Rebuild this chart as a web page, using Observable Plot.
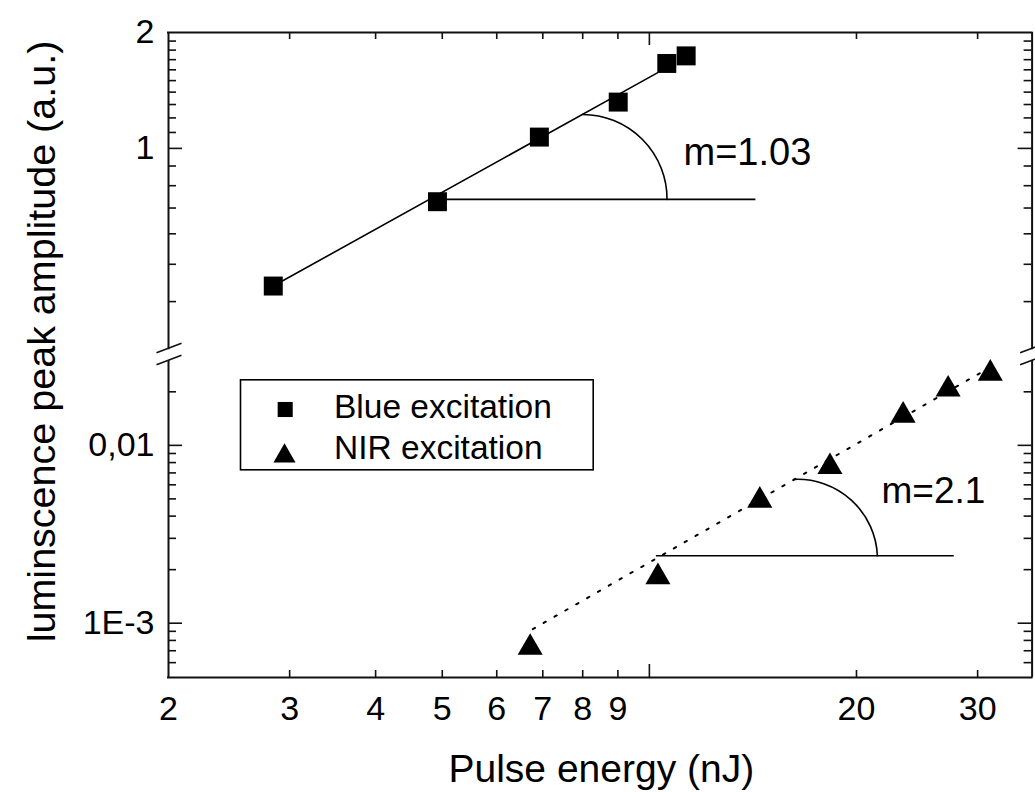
<!DOCTYPE html>
<html>
<head>
<meta charset="utf-8">
<script src="https://cdn.jsdelivr.net/npm/d3@7"></script>
<script src="https://cdn.jsdelivr.net/npm/@observablehq/plot@0.6"></script>
<style>
  body { margin: 0; background: #fff; }
  #chart { position: relative; width: 1035px; height: 792px; }
  #chart svg { position: absolute; left: 0; }
</style>
</head>
<body>
<div id="chart"></div>
<script>
// ---------- data ----------
const blueEnergy = [2.84, 4.92, 6.92, 9.01, 10.60, 11.31];          // nJ
const blueAmp    = [0.439, 0.727, 1.070, 1.319, 1.662, 1.739];      // a.u.
const nirEnergy  = [6.71, 10.29, 14.47, 18.30, 23.38, 27.18, 31.30];
const nirAmp     = [7.29e-4, 1.82e-3, 4.90e-3, 7.57e-3, 0.01471, 0.02065, 0.02533];

// fitted power-law lines (end points)
const blueFitEnergy = [2.84, 10.27];
const blueFitAmp    = [0.439, 1.571];
const nirFitEnergy  = [6.77, 30.5];
const nirFitAmp     = [9.26e-4, 0.02596];

// slope annotations: horizontal reference + angle arc
const blueRefLine = [{x1: 4.92, x2: 14.26, y: 0.737}];
const blueArc     = [{x1: 8.0, y1: 1.225, x2: 10.61, y2: 0.737}];
const nirRefLine  = [{x1: 10.22, x2: 27.7, y: 2.394e-3}];
const nirArc      = [{x1: 16.23, y1: 6.44e-3, x2: 21.45, y2: 2.394e-3}];
const slopeLabels = [
  {x: 11.21, y: 0.976, text: "m=1.03", panel: "top"},
  {x: 21.75, y: 5.55e-3, text: "m=2.1", panel: "bottom"}
];

// axes
const xDomain = [2, 36];
const yTopDomain = [0.3, 2];
const yBottomDomain = [4.95e-4, 0.03];
const xTickValues = [2, 3, 4, 5, 6, 7, 8, 9, 20, 30];
const xTickLabels = ["2", "3", "4", "5", "6", "7", "8", "9", "20", "30"];
const xMinorTicks = [3, 4, 5, 6, 7, 8, 9, 20, 30];
const xMajorTicks = [10];
const yTopTickValues = [1, 2];
const yTopTickLabels = ["1", "2"];
const yTopMinor = [0.4, 0.5, 0.6, 0.7, 0.8, 0.9, 1.1, 1.2, 1.3, 1.4, 1.5, 1.6, 1.7, 1.8, 1.9];
const yTopMajor = [1];
const yBottomTickValues = [0.001, 0.01];
const yBottomTickLabels = ["1E-3", "0,01"];
const yBottomMinor = [6e-4, 7e-4, 8e-4, 9e-4, 0.002, 0.003, 0.004, 0.005, 0.006, 0.007, 0.008, 0.009, 0.02];
const yBottomMajor = [0.001, 0.01];

const legendLabels = ["Blue excitation", "NIR excitation"];
const xTitle = "Pulse energy (nJ)";
const yTitle = "luminscence peak amplitude (a.u.)";

// ---------- layout ----------
const FONT = "'Liberation Sans', Arial, Helvetica, sans-serif";
const INK = "#111";
const W = 1035, ML = 168, MR = 3.4;
const FW = W - ML - MR;
const topH = 355, topMT = 32, topMB = 5.8, topFH = topH - topMT - topMB;
const botTop = 355, botH = 437, botMT = 5, botMB = 115, botFH = botH - botMT - botMB;

const xLabelMap = new Map(xTickValues.map((v, i) => [v, xTickLabels[i]]));
const yTopLabelMap = new Map(yTopTickValues.map((v, i) => [v, yTopTickLabels[i]]));
const yBotLabelMap = new Map(yBottomTickValues.map((v, i) => [v, yBottomTickLabels[i]]));

// axis-break glyph (two parallel slashes)
const breakSymbol = {
  draw(ctx) {
    ctx.moveTo(-12, 3); ctx.lineTo(13, -6.5);
    ctx.moveTo(-12, 15); ctx.lineTo(13, 5.5);
  }
};

function ticks(yMinor, yMajor, FH, side) {
  const m = [];
  const sw = 1.6;
  m.push(Plot.tickY(yMinor, {y: d => d, insetRight: FW - 8, stroke: INK, strokeWidth: sw}));
  m.push(Plot.tickY(yMinor, {y: d => d, insetLeft: FW - 8, stroke: INK, strokeWidth: sw}));
  m.push(Plot.tickY(yMajor, {y: d => d, insetRight: FW - 14, stroke: INK, strokeWidth: sw}));
  m.push(Plot.tickY(yMajor, {y: d => d, insetLeft: FW - 14, stroke: INK, strokeWidth: sw}));
  if (side === "top") {
    m.push(Plot.tickX(xMinorTicks, {x: d => d, insetBottom: FH - 7, stroke: INK, strokeWidth: sw}));
    m.push(Plot.tickX(xMajorTicks, {x: d => d, insetBottom: FH - 13, stroke: INK, strokeWidth: sw}));
  } else {
    m.push(Plot.tickX(xMinorTicks, {x: d => d, insetTop: FH - 7, stroke: INK, strokeWidth: sw}));
    m.push(Plot.tickX(xMajorTicks, {x: d => d, insetTop: FH - 13, stroke: INK, strokeWidth: sw}));
  }
  return m;
}

const styleObj = {background: "transparent", overflow: "visible", fontFamily: FONT, color: "#000"};

// ---------- top panel (blue excitation) ----------
const topPlot = Plot.plot({
  width: W, height: topH,
  marginLeft: ML, marginRight: MR, marginTop: topMT, marginBottom: topMB,
  style: styleObj,
  x: {type: "log", domain: xDomain, axis: null},
  y: {type: "log", domain: yTopDomain, axis: null},
  marks: [
    Plot.ruleY([yTopDomain[1]], {stroke: INK, strokeWidth: 2, strokeLinecap: "square"}),
    Plot.ruleX(xDomain, {stroke: INK, strokeWidth: 2}),
    ...ticks(yTopMinor, yTopMajor, topFH, "top"),
    Plot.axisY(yTopTickValues, {anchor: "left", tickSize: 0, tickPadding: 14, fontSize: 34,
      tickFormat: d => yTopLabelMap.get(d), label: null}),
    Plot.dot([0], {x: () => xDomain[0], y: () => yTopDomain[0], symbol: breakSymbol, r: 10,
      fill: "none", stroke: INK, strokeWidth: 1.6}),
    Plot.dot([0], {x: () => xDomain[1], y: () => yTopDomain[0], symbol: breakSymbol, r: 10,
      fill: "none", stroke: INK, strokeWidth: 1.6}),
    Plot.line(blueFitEnergy, {x: d => d, y: (d, i) => blueFitAmp[i], stroke: "#000", strokeWidth: 1.6}),
    Plot.link(blueRefLine, {x1: "x1", x2: "x2", y1: "y", y2: "y", stroke: "#000", strokeWidth: 1.6}),
    Plot.arrow(blueArc, {x1: "x1", y1: "y1", x2: "x2", y2: "y2", bend: 45, headLength: 0,
      stroke: "#000", strokeWidth: 1.6}),
    Plot.dot(blueEnergy, {x: d => d, y: (d, i) => blueAmp[i], symbol: "square", r: 10.7,
      fill: "#000", stroke: "none"}),
    Plot.text(slopeLabels.filter(d => d.panel === "top"), {x: "x", y: "y", text: "text",
      textAnchor: "start", lineAnchor: "middle", fontSize: 38, fill: "#000"}),
    Plot.text([yTitle], {frameAnchor: "left", text: d => d, rotate: -90, dx: -126, dy: 150.4,
      textAnchor: "middle", lineAnchor: "middle", fontSize: 39.5, fill: "#000"})
  ]
});
topPlot.style.top = "0px";

// ---------- bottom panel (NIR excitation) ----------
const botPlot = Plot.plot({
  width: W, height: botH,
  marginLeft: ML, marginRight: MR, marginTop: botMT, marginBottom: botMB,
  style: styleObj,
  x: {type: "log", domain: xDomain, axis: null},
  y: {type: "log", domain: yBottomDomain, axis: null},
  marks: [
    Plot.ruleY([yBottomDomain[0]], {stroke: INK, strokeWidth: 2, strokeLinecap: "square"}),
    Plot.ruleX(xDomain, {stroke: INK, strokeWidth: 2}),
    ...ticks(yBottomMinor, yBottomMajor, botFH, "bottom"),
    Plot.axisY(yBottomTickValues, {anchor: "left", tickSize: 0, tickPadding: 14, fontSize: 34,
      tickFormat: d => yBotLabelMap.get(d), label: null}),
    Plot.axisX(xTickValues, {anchor: "bottom", tickSize: 0, tickPadding: 18, fontSize: 34,
      tickFormat: d => xLabelMap.get(d), label: null}),
    Plot.text([xTitle], {frameAnchor: "bottom", text: d => d, dx: 1, dy: 92.5,
      textAnchor: "middle", lineAnchor: "middle", fontSize: 39, fill: "#000"}),
    Plot.line(nirFitEnergy, {x: d => d, y: (d, i) => nirFitAmp[i], stroke: "#000", strokeWidth: 2,
      strokeDasharray: "2.5,10"}),
    Plot.link(nirRefLine, {x1: "x1", x2: "x2", y1: "y", y2: "y", stroke: "#000", strokeWidth: 1.6}),
    Plot.arrow(nirArc, {x1: "x1", y1: "y1", x2: "x2", y2: "y2", bend: 45, headLength: 0,
      stroke: "#000", strokeWidth: 1.6}),
    Plot.dot(nirEnergy, {x: d => d, y: (d, i) => nirAmp[i], symbol: "triangle", r: 9.3,
      fill: "#000", stroke: "none"}),
    Plot.text(slopeLabels.filter(d => d.panel === "bottom"), {x: "x", y: "y", text: "text",
      textAnchor: "start", lineAnchor: "middle", fontSize: 37, fill: "#000"}),
    // legend
    Plot.frame({insetLeft: 72, insetTop: 19.3, insetRight: FW - (592.7 - ML), insetBottom: botFH - (469.3 - 360),
      stroke: "#000", strokeWidth: 1.6}),
    Plot.dot([0], {frameAnchor: "top-left", dx: 116.7, dy: 49, symbol: "square", r: 8.5, fill: "#000", stroke: "none"}),
    Plot.dot([0], {frameAnchor: "top-left", dx: 116, dy: 95.5, symbol: "triangle", r: 8.2, fill: "#000", stroke: "none"}),
    Plot.text([legendLabels[0]], {frameAnchor: "top-left", text: d => d, dx: 165.5, dy: 46.5,
      textAnchor: "start", lineAnchor: "middle", fontSize: 33.5, fill: "#000"}),
    Plot.text([legendLabels[1]], {frameAnchor: "top-left", text: d => d, dx: 165.5, dy: 88,
      textAnchor: "start", lineAnchor: "middle", fontSize: 33.5, fill: "#000"})
  ]
});
botPlot.style.top = botTop + "px";

const chart = document.getElementById("chart");
chart.appendChild(topPlot);
chart.appendChild(botPlot);
</script>
</body>
</html>
